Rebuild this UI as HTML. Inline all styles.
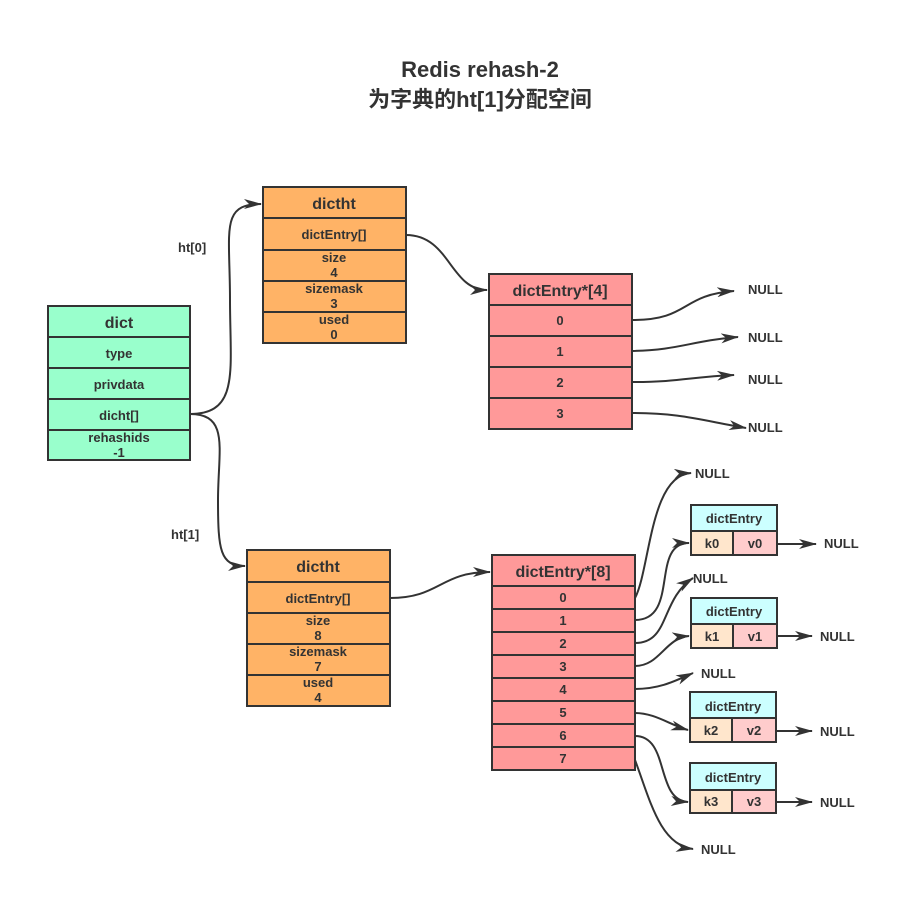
<!DOCTYPE html>
<html><head><meta charset="utf-8"><style>
body{margin:0;background:#fff}
text{font-family:"Liberation Sans","Noto Sans CJK SC",sans-serif;font-weight:bold;fill:#333}
</style></head><body>
<svg width="908" height="893" viewBox="0 0 908 893" xmlns="http://www.w3.org/2000/svg">
<defs><marker id="a" markerWidth="10" markerHeight="8" refX="9" refY="4" orient="auto" markerUnits="userSpaceOnUse"><path d="M0,0 L18,4 L0,8 L4,4 Z" fill="#333" transform="scale(0.55,1)"/></marker>
<marker id="b" viewBox="0 0 18 10" markerWidth="18" markerHeight="10" refX="17" refY="5" orient="auto" markerUnits="userSpaceOnUse"><path d="M0,0 L18,5 L0,10 L5,5 Z" fill="#333"/></marker></defs>
<text x="480" y="77" font-size="22" text-anchor="middle">Redis rehash-2</text>
<text x="480" y="107" font-size="22" text-anchor="middle">为字典的ht[1]分配空间</text>
<g stroke="#333" stroke-width="2">
<!-- dict -->
<rect x="48" y="306" width="142" height="154" fill="#99ffcc"/>
<path d="M48 337H190M48 368H190M48 399H190M48 430H190"/>
<!-- dictht0 -->
<rect x="263" y="187" width="143" height="156" fill="#ffb366"/>
<path d="M263 218H406M263 250H406M263 281H406M263 312H406"/>
<!-- de4 -->
<rect x="489" y="274" width="143" height="155" fill="#ff9999"/>
<path d="M489 305H632M489 336H632M489 367H632M489 398H632"/>
<!-- dictht1 -->
<rect x="247" y="550" width="143" height="156" fill="#ffb366"/>
<path d="M247 582H390M247 613H390M247 644H390M247 675H390"/>
<!-- de8 -->
<rect x="492" y="555" width="143" height="215" fill="#ff9999"/>
<path d="M492 586H635M492 609H635M492 632H635M492 655H635M492 678H635M492 701H635M492 724H635M492 747H635"/>
</g>
<g stroke="#333" stroke-width="2">
<rect x="691" y="505" width="86" height="26" fill="#ccffff"/><rect x="691" y="531" width="42" height="24" fill="#ffe6cc"/><rect x="733" y="531" width="44" height="24" fill="#ffcccc"/>
<rect x="691" y="598" width="86" height="26" fill="#ccffff"/><rect x="691" y="624" width="42" height="24" fill="#ffe6cc"/><rect x="733" y="624" width="44" height="24" fill="#ffcccc"/>
<rect x="690" y="692" width="86" height="26" fill="#ccffff"/><rect x="690" y="718" width="42" height="24" fill="#ffe6cc"/><rect x="732" y="718" width="44" height="24" fill="#ffcccc"/>
<rect x="690" y="763" width="86" height="27" fill="#ccffff"/><rect x="690" y="790" width="42" height="23" fill="#ffe6cc"/><rect x="732" y="790" width="44" height="23" fill="#ffcccc"/>
</g>
<g fill="none" stroke="#333" stroke-width="2" marker-end="url(#b)">
<path d="M190 414C240 414 230 370 230 300C230 230 220 204 261 204"/>
<path d="M190 414C230 414 218 450 218 500C218 550 220 566 245 566"/>
<path d="M406 235C450 235 450 290 487 290"/>
<path d="M390 598C440 598 440 572 490 572"/>
<path d="M632 320C690 320 680 295 734 291"/>
<path d="M632 351C680 350 690 341 738 337"/>
<path d="M632 382C680 382 690 377 734 375"/>
<path d="M632 413C680 413 700 420 746 428"/>
<path d="M635 598C650 570 650 475 691 473"/>
<path d="M635 620C680 620 650 543 689 543"/>
<path d="M635 643C670 643 660 600 693 578"/>
<path d="M635 666C660 666 665 638 689 636"/>
<path d="M635 689C660 689 675 681 693 673"/>
<path d="M635 713C655 713 670 725 688 730"/>
<path d="M635 736C670 736 655 800 688 802"/>
<path d="M635 760C650 800 660 845 693 849"/>
<path d="M777 544H816"/><path d="M777 636H812"/><path d="M776 731H812"/><path d="M776 802H812"/>
</g>
<g font-size="13" text-anchor="middle">
<text x="119" y="328" font-size="16">dict</text>
<text x="119" y="358">type</text><text x="119" y="389">privdata</text><text x="119" y="420">dicht[]</text>
<text x="119" y="442">rehashids</text><text x="119" y="457">-1</text>
<text x="334" y="209" font-size="16">dictht</text>
<text x="334" y="239">dictEntry[]</text>
<text x="334" y="262">size</text><text x="334" y="277">4</text>
<text x="334" y="293">sizemask</text><text x="334" y="308">3</text>
<text x="334" y="324">used</text><text x="334" y="339">0</text>
<text x="318" y="572" font-size="16">dictht</text>
<text x="318" y="603">dictEntry[]</text>
<text x="318" y="625">size</text><text x="318" y="640">8</text>
<text x="318" y="656">sizemask</text><text x="318" y="671">7</text>
<text x="318" y="687">used</text><text x="318" y="702">4</text>
<text x="560" y="296" font-size="16">dictEntry*[4]</text>
<text x="560" y="325">0</text><text x="560" y="356">1</text><text x="560" y="387">2</text><text x="560" y="418">3</text>
<text x="563" y="577" font-size="16">dictEntry*[8]</text>
<text x="563" y="602">0</text><text x="563" y="625">1</text><text x="563" y="648">2</text><text x="563" y="671">3</text><text x="563" y="694">4</text><text x="563" y="717">5</text><text x="563" y="740">6</text><text x="563" y="763">7</text>
<text x="734" y="523">dictEntry</text><text x="712" y="548">k0</text><text x="755" y="548">v0</text>
<text x="734" y="616">dictEntry</text><text x="712" y="641">k1</text><text x="755" y="641">v1</text>
<text x="733" y="711">dictEntry</text><text x="711" y="735">k2</text><text x="754" y="735">v2</text>
<text x="733" y="782">dictEntry</text><text x="711" y="806">k3</text><text x="754" y="806">v3</text>
</g>
<g font-size="13">
<text x="178" y="252">ht[0]</text><text x="171" y="539">ht[1]</text>
<text x="748" y="294">NULL</text><text x="748" y="342">NULL</text><text x="748" y="384">NULL</text><text x="748" y="432">NULL</text>
<text x="695" y="478">NULL</text><text x="824" y="548">NULL</text><text x="693" y="583">NULL</text><text x="820" y="641">NULL</text>
<text x="701" y="678">NULL</text><text x="820" y="736">NULL</text><text x="820" y="807">NULL</text><text x="701" y="854">NULL</text>
</g>
</svg>
</body></html>
